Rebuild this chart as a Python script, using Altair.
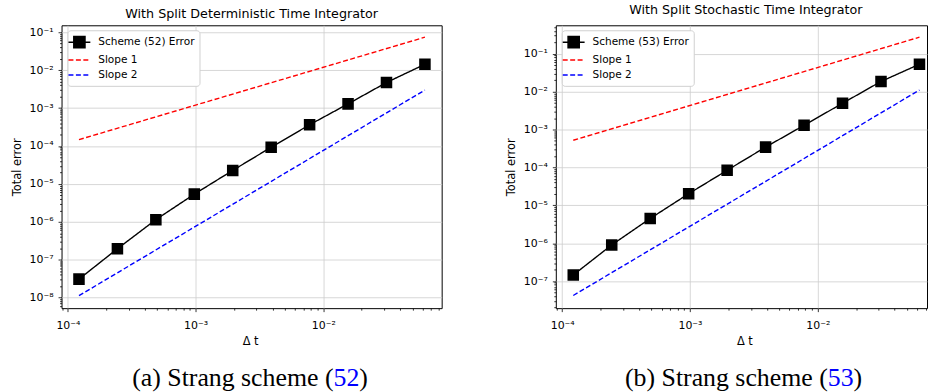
import altair as alt
import pandas as pd

# ---- data ----
dt = [1.220703125e-4, 2.44140625e-4, 4.8828125e-4, 9.765625e-4, 1.953125e-3,
      3.90625e-3, 7.8125e-3, 1.5625e-2, 3.125e-2, 6.25e-2]
err_52 = [3.08e-8, 1.95e-7, 1.14e-6, 5.37e-6, 2.27e-5, 9.27e-5, 3.63e-4, 1.29e-3, 4.72e-3, 1.43e-2]
err_53 = [1.45e-7, 9.0e-7, 4.49e-6, 2.02e-5, 8.4e-5, 3.43e-4, 1.29e-3, 4.93e-3, 1.85e-2, 5.28e-2]
slope_dt = [1.220703125e-4, 6.25e-2]
slope1_52 = [1.47e-4, 7.4e-2]
slope2_52 = [1.13e-8, 2.99e-3]
slope1_53 = [5.2e-4, 2.73e-1]
slope2_53 = [4.17e-8, 1.1e-2]

titles = ["With Split Deterministic Time Integrator", "With Split Stochastic Time Integrator"]
labels = ["Scheme (52) Error", "Scheme (53) Error"]
captions = [("(a) Strang scheme (", "52", ")"), ("(b) Strang scheme (", "53", ")")]

FONT = "DejaVu Sans"
SERIF = "Liberation Serif"

DEC = "abs(log(datum.value)/LN10 - round(log(datum.value)/LN10)) < 0.001"
LABEL_EXPR = (DEC + " ? '10' + (round(log(datum.value)/LN10) < 0 ? '\u207b' : '') + "
              "['\u2070','\u00b9','\u00b2','\u00b3','\u2074','\u2075','\u2076','\u2077','\u2078','\u2079']"
              "[abs(round(log(datum.value)/LN10))] : ''")


def ticks(lo, hi):
    out = []
    for e in range(-10, 1):
        for m in range(1, 10):
            v = m * 10.0 ** e
            if lo <= v <= hi:
                out.append(v)
    return out


def log_axis(values, title, **kw):
    return alt.Axis(values=values, title=title, labelExpr=LABEL_EXPR, labelOverlap=False,
                    labelFont=FONT, labelFontSize=11, labelColor="black",
                    titleFont=FONT, titleFontSize=11.5, titleFontWeight="normal", titleColor="black",
                    tickColor="black", tickWidth=0.8, domain=False,
                    tickSize={"condition": {"test": DEC, "value": 3.5}, "value": 2},
                    grid=True, gridColor="#cccccc", gridWidth=0.8,
                    gridOpacity={"condition": {"test": DEC, "value": 1}, "value": 0},
                    **kw)


def panel(i, err, s1, s2, xdom, ydom, width, title_dx):
    label = labels[i]
    dom = [label, "Slope 1", "Slope 2"]
    lines_df = pd.DataFrame({
        "dt": dt + slope_dt + slope_dt,
        "val": err + s1 + s2,
        "series": [label] * len(dt) + ["Slope 1"] * 2 + ["Slope 2"] * 2,
    })
    pts_df = pd.DataFrame({"dt": dt, "val": err})
    xs = alt.Scale(type="log", domain=xdom, nice=False, zero=False)
    ys = alt.Scale(type="log", domain=ydom, nice=False, zero=False)
    is_s = f"datum.value == '{label}'"
    legend = alt.Legend(
        title=None, orient="none", legendX=6, legendY=5, direction="vertical",
        labelFont=FONT, labelFontSize=10.6, labelColor="black", labelOffset=12,
        strokeColor="#d0d0d0", fillColor="white", cornerRadius=3, padding=5,
        symbolSize=150, symbolStrokeWidth=1.5, rowPadding=2,
        symbolType=alt.ExprRef(expr=f"{is_s} ? 'M-1.8,0H1.8M-0.92,-0.92H0.92V0.92H-0.92Z' : 'M-1.8,0H1.8'"),
        symbolDash=alt.ExprRef(expr=f"{is_s} ? [1, 0] : [5, 2.5]"),
        symbolFillColor="black",
    )
    line = alt.Chart(lines_df).mark_line(strokeWidth=1.4, clip=True).encode(
        x=alt.X("dt:Q", scale=xs, axis=log_axis(ticks(xdom[0], xdom[1]), "\u0394 t", titleX=190,
                                                titlePadding=5, labelPadding=8)),
        y=alt.Y("val:Q", scale=ys, axis=log_axis(ticks(ydom[0], ydom[1]), "Total error",
                                                 titlePadding=7, labelPadding=5)),
        color=alt.Color("series:N", scale=alt.Scale(domain=dom, range=["black", "#ff0000", "#0000ff"]), legend=legend),
        strokeDash=alt.StrokeDash("series:N", scale=alt.Scale(domain=dom, range=[[1, 0], [5, 2.5], [5, 2.5]]), legend=None),
    )
    pts = alt.Chart(pts_df).mark_point(shape="square", filled=True, size=135, color="black", opacity=1, clip=True).encode(
        x="dt:Q", y="val:Q")
    one = pd.DataFrame({"a": [0]})
    c1, c2, c3 = captions[i]
    cap_kw = dict(font=SERIF, fontSize=26, baseline="middle")
    cap1 = alt.Chart(one).mark_text(text=c1, align="right", color="black", **cap_kw).encode(
        x=alt.value(274), y=alt.value(355))
    cap2 = alt.Chart(one).mark_text(text=c2, align="left", color="#0000ff", **cap_kw).encode(
        x=alt.value(274), y=alt.value(355))
    cap3 = alt.Chart(one).mark_text(text=c3, align="left", color="black", **cap_kw).encode(
        x=alt.value(300), y=alt.value(355))
    return alt.layer(line, pts, cap1, cap2, cap3).properties(
        width=width, height=285,
        title=alt.Title(titles[i], font=FONT, fontSize=12.8, fontWeight="normal", color="black", offset=5, dx=title_dx),
    )


xdom = [10 ** -4.05, 10 ** -1.073]
xdom_r = [10 ** -4.05, 10 ** (-4.05 + 374 / 128.75)]
left = panel(0, err_52, slope1_52, slope2_52, xdom, [10 ** -8.277, 10 ** -0.817], 383, 0)
right = panel(1, err_53, slope1_53, slope2_53, xdom_r, [10 ** -7.714, 10 ** -0.25], 374, 4.5)

chart = alt.hconcat(left, right, spacing=115, bounds="flush").resolve_scale(
    color="independent", strokeDash="independent"
).properties(
    padding={"left": 10, "top": 1, "right": 0, "bottom": 0}
).configure_view(stroke="black", strokeWidth=1)

chart.save("out.html", embed_options={"renderer": "svg", "actions": False})
